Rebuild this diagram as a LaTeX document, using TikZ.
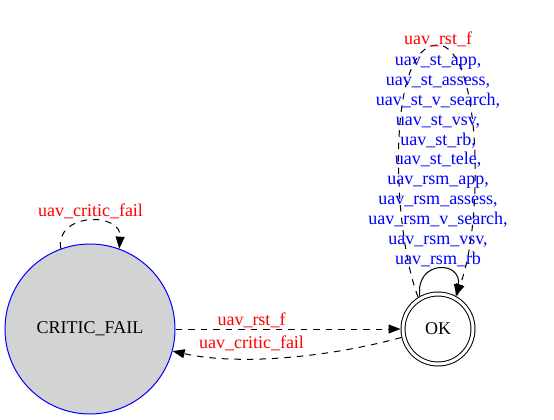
\documentclass[tikz,border=0pt]{standalone}
\usepackage{fontspec}
\setmainfont{Liberation Serif}
\usetikzlibrary{arrows.meta}
\definecolor{cfgray}{HTML}{D3D3D3}
\tikzset{
  lbl/.style={font=\fontsize{18}{19.9}\selectfont, inner sep=0pt, anchor=base},
  evred/.style={lbl, text=red},
  evblue/.style={font=\fontsize{18}{19.9}\selectfont, inner sep=0pt, text=blue, align=center},
  statenode/.style={circle, font=\fontsize{18}{21}\selectfont, inner sep=0pt},
  edge/.style={line width=1pt, -{Triangle[length=12pt,width=9pt]}},
  dashededge/.style={edge, dash pattern=on 6.5pt off 6pt},
}
\begin{document}
\begin{tikzpicture}[x=1pt,y=-1pt]
\useasboundingbox (0,0) rectangle (554,420);
\node[statenode, draw=blue, fill=cfgray, minimum size=170pt, line width=1pt] (CF) at (90,329) {CRITIC\_FAIL};
\node[statenode, draw, double, double distance=3pt, minimum size=70pt, line width=1pt, outer sep=2.5pt] (OK) at (438,329) {OK};
\draw[dashededge] (CF) -- (OK);
\draw[dashededge] (OK.193) .. controls (330,357) and (240,366) .. (CF.345);
\draw[dashededge] (CF.110) .. controls (55,212) and (122,212) .. (CF.70);
\draw[edge] (OK.119) .. controls (415,260) and (462,260) .. (OK.60);
\draw[dashededge] (OK.122) .. controls (392,230) and (386,46) .. (437,45) .. controls (482,44) and (484,225) .. (OK.62);
\node[evred] (l1) at (90.5,216) {uav\_critic\_fail};
\node[evred] (l2) at (251.5,325) {uav\_rst\_f};
\node[evred] (l3) at (251.5,348.5) {uav\_critic\_fail};
\node[evred] (l4) at (438,44.5) {uav\_rst\_f};
\node[evblue] (l5) at (438,161) {uav\_st\_app,\\uav\_st\_assess,\\uav\_st\_v\_search,\\uav\_st\_vsv,\\uav\_st\_rb,\\uav\_st\_tele,\\uav\_rsm\_app,\\uav\_rsm\_assess,\\uav\_rsm\_v\_search,\\uav\_rsm\_vsv,\\uav\_rsm\_rb};
\end{tikzpicture}
\end{document}
